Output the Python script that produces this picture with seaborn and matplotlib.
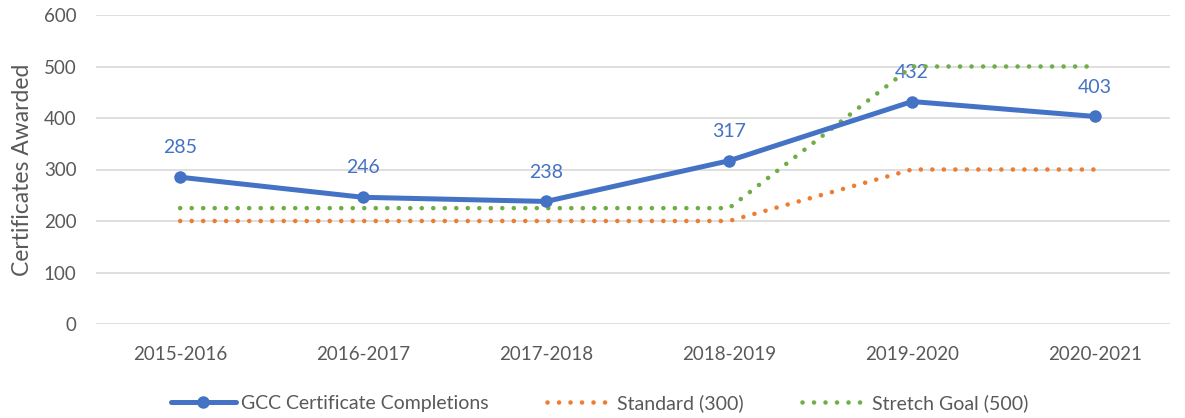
import matplotlib
matplotlib.use("Agg")
import matplotlib.pyplot as plt
import seaborn as sns
import pandas as pd

years = ["2015-2016", "2016-2017", "2017-2018", "2018-2019", "2019-2020", "2020-2021"]
completions = [285, 246, 238, 317, 432, 403]
standard = [200, 200, 200, 200, 300, 300]
stretch = [225, 225, 225, 225, 500, 500]
y_ticks = [0, 100, 200, 300, 400, 500, 600]

sns.set_theme(style="white")
plt.rcParams["font.family"] = ["Lato", "DejaVu Sans"]

BLUE = "#4472C4"
ORANGE = "#ED7D31"
GREEN = "#70AD47"
GRAY = "#595959"

df = pd.DataFrame({"year": years, "comp": completions, "std": standard, "str": stretch})

fig = plt.figure(figsize=(11.85, 4.18), dpi=100)
ax = fig.add_axes([96 / 1185, 1 - 324 / 418, (1170 - 96) / 1185, (324 - 15) / 418])

dot = (0, (0.01, 2.5))
sns.lineplot(data=df, x="year", y="std", ax=ax, color=ORANGE, lw=3.3,
             linestyle=dot, dash_capstyle="round", label="Standard (300)", zorder=2)
sns.lineplot(data=df, x="year", y="str", ax=ax, color=GREEN, lw=3.3,
             linestyle=dot, dash_capstyle="round", label="Stretch Goal (500)", zorder=3)
sns.lineplot(data=df, x="year", y="comp", ax=ax, color=BLUE, lw=3.6, marker="o",
             markersize=9, markeredgewidth=0, label="GCC Certificate Completions", zorder=4)

for i, v in enumerate(completions):
    ax.annotate(str(v), (i, v), xytext=(0, 15), textcoords="offset points",
                ha="center", va="bottom", color=BLUE, fontsize=14, zorder=1)

ax.set_ylim(0, 600)
ax.set_yticks(y_ticks)
ax.set_xlim(-0.46, 5.41)
ax.grid(axis="y", color="#D9D9D9", lw=1.2)
ax.set_axisbelow(True)
for s in ax.spines.values():
    s.set_visible(False)
ax.tick_params(axis="both", length=0, labelsize=13.5, labelcolor=GRAY, pad=14)
ax.tick_params(axis="x", pad=16)
ax.set_xlabel("")
ax.set_ylabel("Certificates Awarded", fontsize=16.5, color=GRAY, labelpad=8)

h, l = ax.get_legend_handles_labels()
order = [2, 0, 1]
ax.legend([h[i] for i in order], [l[i] for i in order], loc="center",
          bbox_to_anchor=(600 / 1185, 1 - 403 / 418), bbox_transform=fig.transFigure,
          ncol=3, frameon=False, fontsize=14, labelcolor=GRAY, handlelength=3.3,
          columnspacing=3.0, handletextpad=0.3)

fig.savefig("out.png", dpi=100)
